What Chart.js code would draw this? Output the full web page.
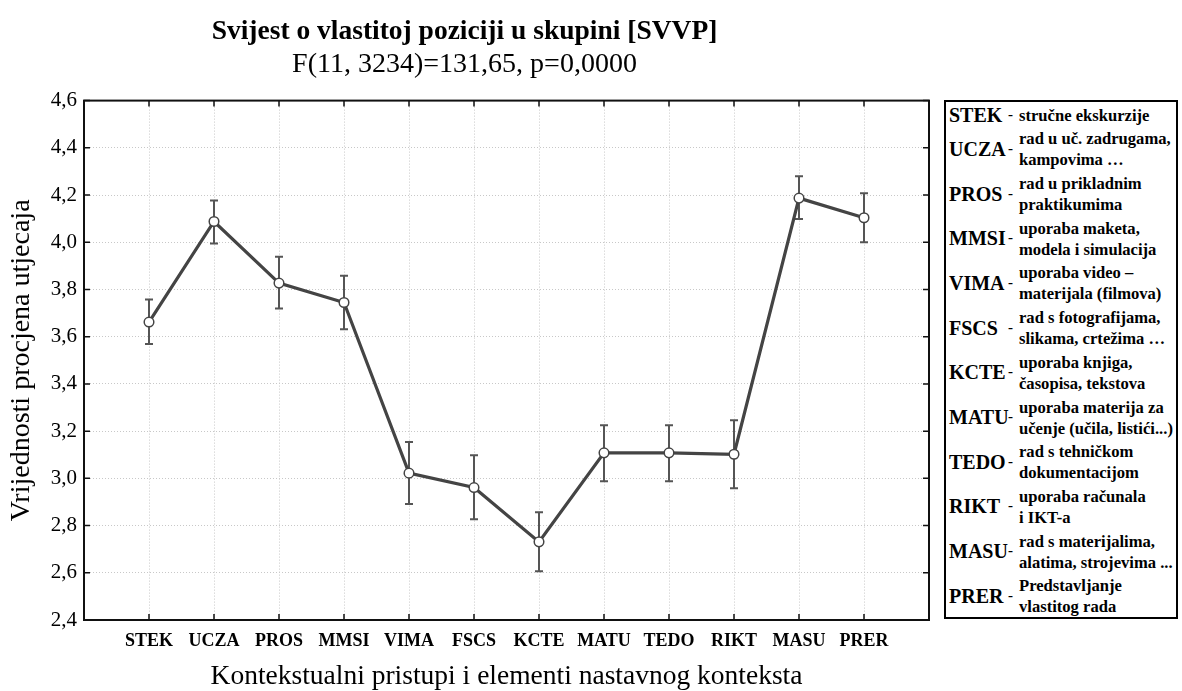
<!DOCTYPE html>
<html>
<head>
<meta charset="utf-8">
<title>SVVP</title>
<script src="https://cdn.jsdelivr.net/npm/chart.js@4.4.1/dist/chart.umd.min.js"></script>
<style>
	body { margin: 0; background: #fff; }
	#wrap { position: relative; width: 1182px; height: 691px; }
	#chartBox { position: absolute; left: 0; top: 0; width: 937px; height: 691px; }
	#legendBox {
		position: absolute; left: 944px; top: 100px; width: 234px; height: 519px;
		border: 2px solid #000; font-family: "Liberation Serif", serif; font-weight: bold; color: #000;
		padding-top: 0; box-sizing: border-box;
	}
	.entry { display: flex; align-items: center; margin-top: 2.7px; }
	.abbr { position: relative; flex: 0 0 73px; height: 21px; font-size: 20px; line-height: 21px; white-space: nowrap; }
	.abbr .nm { position: absolute; left: 3px; top: 0; }
	.abbr .dash { position: absolute; left: 62px; top: -1px; font-size: 15px; }
	.desc { font-size: 16.6px; line-height: 21px; white-space: nowrap; }
</style>
</head>
<body>
<div id="wrap">
	<div id="chartBox"><canvas id="lineChart"></canvas></div>
	<div id="legendBox"></div>
</div>
<script>
// data
const categories = ['STEK', 'UCZA', 'PROS', 'MMSI', 'VIMA', 'FSCS', 'KCTE', 'MATU', 'TEDO', 'RIKT', 'MASU', 'PRER'];
const means = [3.662, 4.088, 3.827, 3.745, 3.022, 2.961, 2.731, 3.108, 3.108, 3.102, 4.187, 4.104];
const lowerCI = [3.569, 3.995, 3.719, 3.631, 2.891, 2.827, 2.607, 2.988, 2.988, 2.958, 4.098, 4.000];
const upperCI = [3.758, 4.177, 3.939, 3.858, 3.154, 3.098, 2.856, 3.225, 3.225, 3.246, 4.280, 4.208];
const yTicks = [2.4, 2.6, 2.8, 3.0, 3.2, 3.4, 3.6, 3.8, 4.0, 4.2, 4.4, 4.6];
const legendText = [
	['stručne ekskurzije'],
	['rad u uč. zadrugama,', 'kampovima …'],
	['rad u prikladnim', 'praktikumima'],
	['uporaba maketa,', 'modela i simulacija'],
	['uporaba video –', 'materijala (filmova)'],
	['rad s fotografijama,', 'slikama, crtežima …'],
	['uporaba knjiga,', 'časopisa, tekstova'],
	['uporaba materija za', 'učenje (učila, listići...)'],
	['rad s tehničkom', 'dokumentacijom'],
	['uporaba računala', 'i IKT-a'],
	['rad s materijalima,', 'alatima, strojevima ...'],
	['Predstavljanje', 'vlastitog rada']
];

const serif = '"Liberation Serif", "Times New Roman", serif';

// legend box on the right
const legendBox = document.getElementById('legendBox');
categories.forEach((cat, i) => {
	const row = document.createElement('div');
	row.className = 'entry';
	row.innerHTML = '<div class="abbr"><span class="nm">' + cat + '</span><span class="dash">-</span></div>' +
		'<div class="desc">' + legendText[i].join('<br>') + '</div>';
	legendBox.appendChild(row);
});

// error bars, frame and inward tick marks
const errorBars = {
	id: 'errorBars',
	beforeDatasetsDraw(chart) {
		const { ctx, chartArea: { top, left, right, bottom }, scales: { x, y } } = chart;
		ctx.save();
		ctx.strokeStyle = '#555';
		ctx.lineWidth = 2;
		categories.forEach((c, i) => {
			const px = x.getPixelForValue(i + 1);
			const yLo = y.getPixelForValue(lowerCI[i]);
			const yHi = y.getPixelForValue(upperCI[i]);
			ctx.beginPath();
			ctx.moveTo(px, yLo); ctx.lineTo(px, yHi);
			ctx.moveTo(px - 4, yLo); ctx.lineTo(px + 4, yLo);
			ctx.moveTo(px - 4, yHi); ctx.lineTo(px + 4, yHi);
			ctx.stroke();
		});

		ctx.strokeStyle = '#111';
		ctx.lineWidth = 1.5;
		ctx.beginPath();
		yTicks.forEach(v => {
			const py = y.getPixelForValue(v);
			ctx.moveTo(left, py); ctx.lineTo(left + 6, py);
			ctx.moveTo(right - 6, py); ctx.lineTo(right, py);
		});
		categories.forEach((c, i) => {
			const px = x.getPixelForValue(i + 1);
			ctx.moveTo(px, top); ctx.lineTo(px, top + 6);
			ctx.moveTo(px, bottom); ctx.lineTo(px, bottom - 6);
		});
		ctx.stroke();
		ctx.lineWidth = 2;
		ctx.strokeRect(left, top, right - left, bottom - top);
		ctx.restore();
	}
};

const ctx = document.getElementById('lineChart').getContext('2d');
const lineChart = new Chart(ctx, {
	type: 'line',
	data: {
		datasets: [{
			data: means.map((m, i) => ({ x: i + 1, y: m })),
			borderColor: '#444',
			borderWidth: 3.2,
			pointRadius: 4.8,
			pointBackgroundColor: '#fff',
			pointBorderColor: '#444',
			pointBorderWidth: 1.5,
			tension: 0
		}]
	},
	options: {
		responsive: true,
		maintainAspectRatio: false,
		animation: false,
		layout: { padding: { left: 0, right: 8, top: 0, bottom: 0 } },
		plugins: {
			legend: { display: false },
			tooltip: { enabled: false },
			title: {
				display: true,
				text: 'Svijest o vlastitoj poziciji u skupini [SVVP]',
				color: '#000',
				font: { family: serif, size: 27.5, weight: 'bold', lineHeight: 1.2 },
				padding: { top: 15, bottom: 0 }
			},
			subtitle: {
				display: true,
				text: 'F(11, 3234)=131,65, p=0,0000',
				color: '#000',
				font: { family: serif, size: 28, lineHeight: 1.2 },
				padding: { top: 0, bottom: 19 }
			}
		},
		scales: {
			x: {
				type: 'linear',
				min: 0,
				max: 13,
				afterBuildTicks: (scale) => { scale.ticks = categories.map((c, i) => ({ value: i + 1 })); },
				afterFit: (scale) => { scale.height = 71; },
				ticks: {
					autoSkip: false,
					maxRotation: 0,
					padding: 11,
					color: '#000',
					font: { family: serif, size: 18, weight: 'bold' },
					callback: (v) => categories[v - 1]
				},
				grid: { color: '#c8c8c8', lineWidth: 1, drawTicks: false },
				border: { display: false, dash: [1, 2] },
				title: {
					display: true,
					text: 'Kontekstualni pristupi i elementi nastavnog konteksta',
					color: '#000',
					font: { family: serif, size: 27.5, lineHeight: 1 },
					padding: { top: 0, bottom: 0 }
				}
			},
			y: {
				min: 2.4,
				max: 4.6,
				afterBuildTicks: (scale) => { scale.ticks = yTicks.map(v => ({ value: v })); },
				afterFit: (scale) => { scale.width = 84; },
				ticks: {
					padding: 7,
					color: '#000',
					font: { family: serif, size: 21 },
					callback: (v) => v.toFixed(1).replace('.', ',')
				},
				grid: { color: '#c8c8c8', lineWidth: 1, drawTicks: false },
				border: { display: false, dash: [1, 2] },
				title: {
					display: true,
					text: 'Vrijednosti procjena utjecaja',
					color: '#000',
					font: { family: serif, size: 28, lineHeight: 1 },
					padding: { top: 8, bottom: 0 }
				}
			}
		}
	},
	plugins: [errorBars]
});
</script>
</body>
</html>
